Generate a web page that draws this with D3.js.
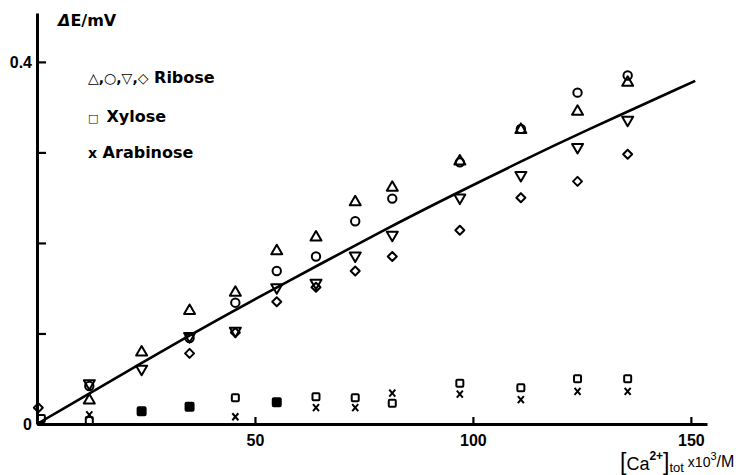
<!DOCTYPE html>
<html><head><meta charset="utf-8">
<script src="https://cdn.jsdelivr.net/npm/d3@7"></script>
<style>body{margin:0;background:#fff}svg{display:block}text{font-family:"DejaVu Sans",sans-serif;fill:#000}</style>
</head><body><svg id="c" width="743" height="475"></svg>
<script>
// Data
const conc = [12, 24, 35, 45.5, 55, 64, 73, 81.5, 97, 111, 124, 135.5];
const riboseTriUp   = [0.027, 0.080, 0.126, 0.146, 0.192, 0.207, 0.246, 0.262, 0.291, 0.326, 0.346, 0.378];
const riboseCircle  = [0.042, null, 0.095, 0.134, 0.169, 0.185, 0.224, 0.249, 0.289, 0.326, 0.366, 0.385];
const riboseTriDown = [0.044, 0.060, 0.096, 0.102, 0.150, 0.155, 0.185, 0.208, 0.249, 0.274, 0.305, 0.335];
const riboseDiamond = [null, null, 0.078, 0.101, 0.135, 0.151, 0.169, 0.185, 0.214, 0.250, 0.268, 0.298];
const xylose        = [0.004, null, null, 0.029, null, 0.030, 0.029, 0.023, 0.045, 0.040, 0.050, 0.050];
const xyloseFilled  = [null, 0.014, 0.019, null, 0.024, null, null, null, null, null, null, null];
const arabinose     = [0.010, null, null, 0.008, null, 0.018, 0.018, 0.034, 0.033, 0.027, 0.036, 0.036];
const originX = [0.3, 1.0];
const originDiamond = [0.018];
const originSquare = [0.006];
const fitX = [0, 37, 55, 81, 95, 111, 124, 151];
const fitY = [0, 0.104, 0.151, 0.218, 0.252, 0.290, 0.320, 0.379];
const xTicks = [50, 100, 150];
const yTicks = [0, 0.1, 0.2, 0.3, 0.4];
const yTickLabels = {0: "0", 0.4: "0.4"};

const svg = d3.select("#c");
const x = d3.scaleLinear().domain([0, 153.7]).range([37, 707]);
const y = d3.scaleLinear().domain([0, 0.454]).range([424, 13]);

// axes
const gx = svg.append("g").attr("transform", `translate(0,${y(0)})`)
  .call(d3.axisBottom(x).tickValues(xTicks).tickSizeInner(-7).tickSizeOuter(0).tickPadding(11).tickFormat(d3.format("d")));
const gy = svg.append("g").attr("transform", `translate(${x(0)},0)`)
  .call(d3.axisLeft(y).tickValues(yTicks).tickSizeInner(-9).tickSizeOuter(0).tickPadding(5)
    .tickFormat(d => yTickLabels[d] !== undefined ? yTickLabels[d] : ""));
[gx, gy].forEach(g => {
  g.select(".domain").attr("stroke", "#000").attr("stroke-width", 3);
  g.selectAll(".tick line").attr("stroke", "#000").attr("stroke-width", 2.2);
  g.selectAll(".tick text").style("font-size", "16px").style("font-weight", "bold")
    .style("font-family", "'Liberation Sans', Arial, sans-serif").attr("fill", "#000");
});
gy.selectAll(".tick text").attr("dy", "0.35em");

// fitted curve
const pts = fitX.map((v, i) => [v, fitY[i]]);
svg.append("path").datum(pts)
  .attr("d", d3.line().x(d => x(d[0])).y(d => y(d[1])).curve(d3.curveBasis))
  .attr("fill", "none").attr("stroke", "#000").attr("stroke-width", 2.6);

// markers
const g = svg.append("g").attr("fill", "none").attr("stroke", "#000").attr("stroke-width", 2);
function series(vals, xs) {
  return vals.map((v, i) => v == null ? null : [xs[i], v]).filter(d => d);
}
function draw(data, shape) {
  data.forEach(([cx, cy]) => {
    const px = x(cx), py = y(cy);
    if (shape === "up") g.append("path").attr("d", `M${px},${py-5.5}L${px+5.5},${py+4}L${px-5.5},${py+4}Z`).attr("stroke-linejoin","round");
    else if (shape === "down") g.append("path").attr("d", `M${px},${py+5.5}L${px+5.5},${py-4}L${px-5.5},${py-4}Z`).attr("stroke-linejoin","round");
    else if (shape === "circle") g.append("circle").attr("cx", px).attr("cy", py).attr("r", 4.2);
    else if (shape === "diamond") g.append("path").attr("d", `M${px},${py-4.5}L${px+4.5},${py}L${px},${py+4.5}L${px-4.5},${py}Z`).attr("stroke-linejoin","round");
    else if (shape === "square") g.append("rect").attr("x", px-3.5).attr("y", py-3.5).attr("width", 7).attr("height", 7).attr("rx", 1);
    else if (shape === "filled") g.append("rect").attr("x", px-4).attr("y", py-4).attr("width", 8).attr("height", 8).attr("rx", 1).attr("fill", "#000");
    else if (shape === "cross") g.append("path").attr("d", `M${px-3},${py-3.5}L${px+3},${py+3.5}M${px+3},${py-3.5}L${px-3},${py+3.5}`);
  });
}
draw(series(riboseTriUp, conc), "up");
draw(series(riboseCircle, conc), "circle");
draw(series(riboseTriDown, conc), "down");
draw(series(riboseDiamond, conc), "diamond");
draw(series(xylose, conc), "square");
draw(series(xyloseFilled, conc), "filled");
draw(series(arabinose, conc), "cross");
draw([[originX[0], originDiamond[0]]], "diamond");
draw([[originX[1], originSquare[0]]], "square");

// labels
svg.append("text").attr("x", 58).attr("y", 26).style("font-size", "16px").style("font-weight", "bold")
  .html('<tspan font-style="italic">Δ</tspan>E/mV');

const leg = svg.append("g").style("font-size", "16px").style("font-weight", "bold");
const t1 = leg.append("text").attr("x", 88).attr("y", 83);
t1.append("tspan").style("font-size", "14px").text("△,○,▽,◇");
t1.append("tspan").text(" Ribose");
const t2 = leg.append("text").attr("x", 88).attr("y", 122);
t2.append("tspan").style("font-size", "11px").text("□");
t2.append("tspan").attr("dx", 8).text("Xylose");
const t3 = leg.append("text").attr("x", 88).attr("y", 158);
t3.append("tspan").style("font-size", "14px").text("x");
t3.append("tspan").text(" Arabinose");

const xl = svg.append("text").attr("x", 620).attr("y", 470).style("font-size", "18px")
  .style("font-family", "'Liberation Sans', Arial, sans-serif");
xl.append("tspan").style("font-size", "23px").text("[");
xl.append("tspan").text("Ca");
xl.append("tspan").attr("dy", -10).style("font-size", "12px").style("font-weight", "bold").text("2+");
xl.append("tspan").attr("dy", 10).style("font-size", "23px").text("]");
xl.append("tspan").attr("dy", 2).style("font-size", "13px").text("tot");
xl.append("tspan").attr("dy", -5).style("font-size", "14px").text(" x10");
xl.append("tspan").attr("dy", -7).style("font-size", "11px").text("3");
xl.append("tspan").attr("dy", 7).style("font-size", "16px").text("/M");
</script></body></html>
